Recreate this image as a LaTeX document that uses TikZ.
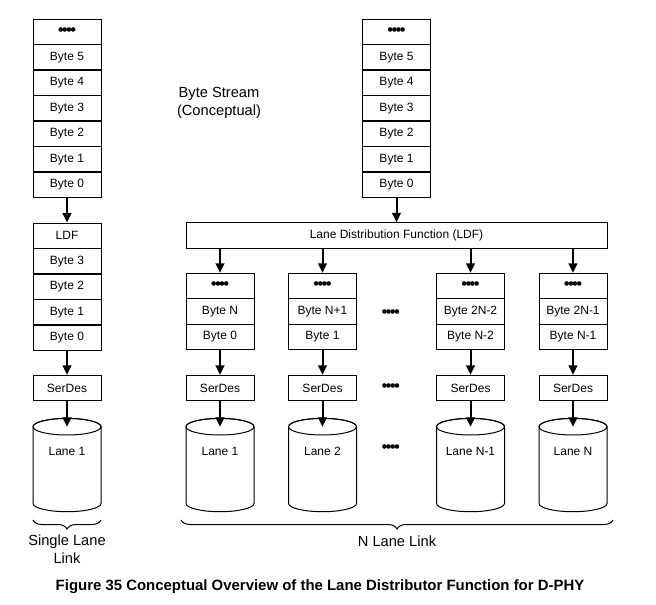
\documentclass[tikz,border=0pt]{standalone}
\usepackage{fontspec}
\setmainfont{Liberation Sans}
\usetikzlibrary{arrows.meta,decorations.pathreplacing}
\newcommand{\mybul}{{\fontsize{12.5}{12.5}\selectfont •\kern-.1em•\kern-.1em•\kern-.1em•}}
\begin{document}
\begin{tikzpicture}[x=0.75pt,y=-0.75pt,
  cell/.style={draw,line width=0.75pt,minimum width=51pt,minimum height=19.1pt,inner sep=0pt,font=\fontsize{9}{10}\selectfont},
  arr/.style={line width=1.5pt,-{Triangle[length=7pt,width=6.5pt]}},
  cyl/.style={draw,fill=white,line width=0.75pt},
  lbl/.style={font=\fontsize{9}{10}\selectfont,inner sep=0pt},
  big/.style={font=\fontsize{11}{13.5}\selectfont,align=center,inner sep=0pt},
  brc/.style={draw,line width=0.75pt,decorate,decoration={brace,amplitude=6.75pt}},
  dots/.style={inner sep=0pt}
]
\fill[white] (0,0) rectangle (656,605);
\useasboundingbox (0,0) rectangle (656,605);

% left byte stream
\foreach \t [count=\k from 0] in {\mybul,Byte 5,Byte 4,Byte 3,Byte 2,Byte 1,Byte 0}
  \node[cell] (ls\k) at (67,{31.75+25.5*\k}) {\t};
% right byte stream
\foreach \t [count=\k from 0] in {\mybul,Byte 5,Byte 4,Byte 3,Byte 2,Byte 1,Byte 0}
  \node[cell] (rs\k) at (396.5,{31.75+25.5*\k}) {\t};

\node[big] (bs) at (219,103) {Byte Stream\\(Conceptual)};

% left LDF stack
\foreach \t [count=\k from 0] in {LDF,Byte 3,Byte 2,Byte 1,Byte 0}
  \node[cell] (la\k) at (67,{235.75+25.5*\k}) {\t};
\draw[arr] (ls6) -- (la0);

\node[cell] (sL) at (67,388) {SerDes};
\draw[arr] (la4) -- (sL);
\coordinate (tL) at (67,426.7);
\draw[cyl] (33,426.7) -- (33,503.4) arc[start angle=180,end angle=0,x radius=34,y radius=8.3] -- (101,426.7)
  arc[start angle=0,end angle=-180,x radius=34,y radius=8.3];
\draw[line width=0.75pt] (tL) ellipse [x radius=34,y radius=8.3];
\node[lbl] (cL) at (67,451.7) {Lane 1};
\draw[arr] (sL) -- (tL);

% big LDF
\node[cell,minimum width=315.75pt] (ldf) at (396.5,235.5) {Lane Distribution Function (LDF)};
\draw[arr] (rs6) -- (ldf);

\foreach \cx/\m/\b/\ln [count=\j] in {220/Byte N/Byte 0/Lane 1,322.5/Byte N+1/Byte 1/Lane 2,470.5/Byte 2N-2/Byte N-2/Lane N-1,573/Byte 2N-1/Byte N-1/Lane N}{
  \node[cell] (qa\j) at (\cx,286) {\mybul};
  \node[cell] (qb\j) at (\cx,311.5) {\m};
  \node[cell] (qc\j) at (\cx,337) {\b};
  \draw[arr] (ldf.south -| qa\j.north) -- (qa\j.north);
  \node[cell] (s\j) at (\cx,388) {SerDes};
  \draw[arr] (qc\j) -- (s\j);
  \coordinate (t\j) at (\cx,426.7);
  \draw[cyl] ({\cx-34},426.7) -- ({\cx-34},503.4) arc[start angle=180,end angle=0,x radius=34,y radius=8.3] -- ({\cx+34},426.7)
    arc[start angle=0,end angle=-180,x radius=34,y radius=8.3];
  \draw[line width=0.75pt] (t\j) ellipse [x radius=34,y radius=8.3];
  \node[lbl] (c\j) at (\cx,451.7) {\ln};
  \draw[arr] (s\j) -- (t\j);
}

\node[dots] (d1) at (390.7,314) {\mybul};
\node[dots] (d2) at (390.7,388) {\mybul};
\node[dots] (d3) at (390.7,449) {\mybul};

% braces
\coordinate (b1r) at (101,520);
\coordinate (b1l) at (33,520);
\draw[brc] (b1r) -- (b1l);
\coordinate (b2r) at (613,520);
\coordinate (b2l) at (181,520);
\draw[brc] (b2r) -- (b2l);

\node[big] (sll) at (67,549) {Single Lane\\Link};
\node[big] (nll) at (397,541) {N Lane Link};

\node[font=\fontsize{11.2}{13}\selectfont\bfseries,inner sep=0pt] (cap) at (320,587) {Figure 35 Conceptual Overview of the Lane Distributor Function for D-PHY};
\end{tikzpicture}
\end{document}
